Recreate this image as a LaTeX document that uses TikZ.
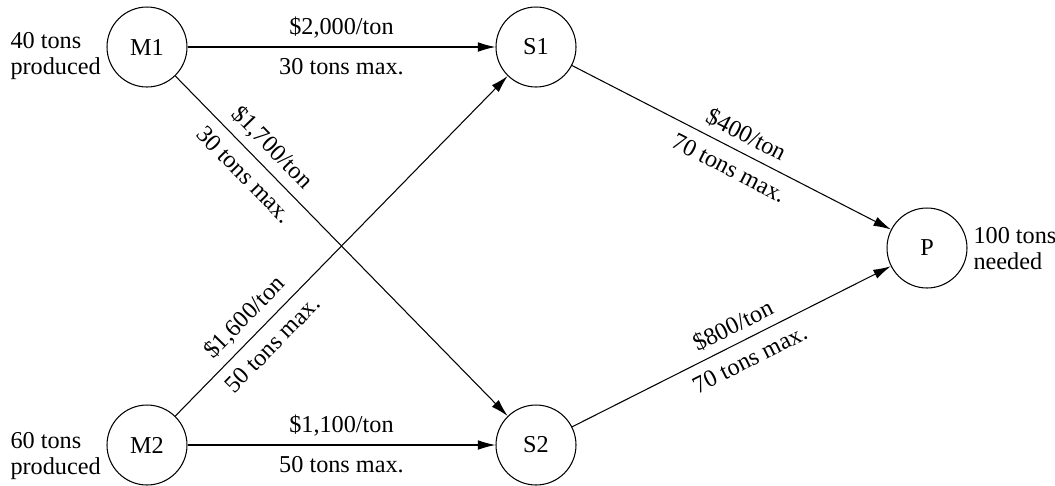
\documentclass[tikz,border=0pt]{standalone}
\usepackage{fontspec}
\setmainfont{Liberation Serif}
\usetikzlibrary{arrows.meta}
\tikzset{
>={Latex[length=10pt,width=5.5pt]}, % filled arrow heads
site/.style={draw, circle, minimum size=1.6cm, inner sep=0pt}, % plants, stores, project
cost/.style={above, sloped, inner sep=4.5pt}, % price over the edge
limit/.style={below, sloped, inner sep=6pt}, % capacity under the edge
note/.style={align=left, anchor=west, inner sep=0pt},
}
\begin{document}
\begin{tikzpicture}[x=0.02cm, y=-0.02cm, line width=0.6pt, font=\fontsize{13.8}{14.8}\selectfont]
    \useasboundingbox (0,0) rectangle (1055,485);
    \node[site] at (147,47) (m1) {M1};
    \node[site] at (147,445) (m2) {M2};
    \node[site] at (536,47) (s1) {S1};
    \node[site] at (536,445) (s2) {S2};
    \node[site] at (927,248) (p) {P};
    \node[note] at (10,56) (m1note) {40 tons\\produced};
    \node[note] at (10,456) (m2note) {60 tons\\produced};
    \node[note] at (973,249) (pnote) {100 tons\\needed};
    \draw[->]
    (m1) edge node[cost]{\$2,000/ton} node[limit]{30 tons max.} (s1)
    (m2) edge node[cost]{\$1,100/ton} node[limit]{50 tons max.} (s2)
    (m1) edge node[cost, pos=0.25]{\$1,700/ton} node[limit, pos=0.25]{30 tons max.} (s2)
    (m2) edge node[cost, pos=0.25]{\$1,600/ton} node[limit, pos=0.25]{50 tons max.} (s1)
    (s1) edge node[cost, pos=0.52]{\$400/ton} node[limit, pos=0.52]{70 tons max.} (p)
    (s2) edge node[cost, pos=0.53]{\$800/ton} node[limit, pos=0.53]{70 tons max.} (p)
    ;
\end{tikzpicture}
\end{document}
